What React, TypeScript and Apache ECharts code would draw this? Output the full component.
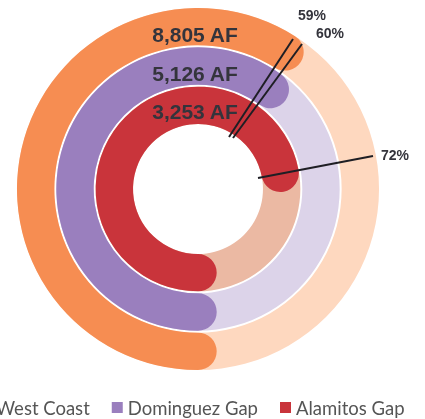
import React, { useEffect, useRef } from "react";
import * as echarts from "echarts";

const regions = ["Alamitos Gap", "Dominguez Gap", "West Coast"]; // inner -> outer
const volumes = ["3,253 AF", "5,126 AF", "8,805 AF"];
const percents = [72, 60, 59];
const darkColors = ["#C9343B", "#9A7FBE", "#F68D52"];
const lightColors = ["#EBB9A3", "#DCD3E9", "#FED8BF"];
const legendOrder = ["West Coast", "Dominguez Gap", "Alamitos Gap"];

export default function App() {
  const ref = useRef<HTMLDivElement>(null);
  useEffect(() => {
    if (!ref.current) return;
    const chart = echarts.init(ref.current, null, { renderer: "svg" });
    const cx = 198;
    const cy = 189;
    const bgSeries = regions.map((r, i) => ({
      type: "bar",
      name: r + " capacity",
      coordinateSystem: "polar",
      data: regions.map((_, j) => (j === i ? 100 : "-")),
      itemStyle: { color: lightColors[i] },
      barGap: "-100%",
      barCategoryGap: "5%",
      silent: true,
    }));
    const darkSeries = regions.map((r, i) => ({
      type: "bar",
      name: r,
      coordinateSystem: "polar",
      data: regions.map((_, j) => (j === i ? percents[i] : "-")),
      itemStyle: { color: darkColors[i] },
      roundCap: true,
      barGap: "-100%",
      barCategoryGap: "5%",
    }));
    const textColor = "#34343c";
    const afTexts = [
      { t: volumes[2], y: 34 },
      { t: volumes[1], y: 73 },
      { t: volumes[0], y: 111 },
    ].map((d) => ({
      type: "text",
      x: 195,
      y: d.y,
      z: 100,
      style: {
        text: d.t,
        fill: textColor,
        font: "bold 21px 'Liberation Sans', Arial, sans-serif",
        align: "center",
        verticalAlign: "middle",
      },
    }));
    const pctStyle = (t: string, x: number, y: number) => ({
      type: "text",
      x,
      y,
      z: 100,
      style: {
        text: t,
        fill: textColor,
        font: "bold 14px 'Liberation Sans', Arial, sans-serif",
        align: "center",
        verticalAlign: "middle",
      },
    });
    const line = (x1: number, y1: number, x2: number, y2: number) => ({
      type: "line",
      z: 100,
      shape: { x1, y1, x2, y2 },
      style: { stroke: "#1e1e24", lineWidth: 2 },
    });
    chart.setOption({
      animation: false,
      polar: { center: [cx, cy], radius: [64, 182] },
      angleAxis: {
        type: "value",
        min: 0,
        max: 100,
        startAngle: 270,
        clockwise: true,
        show: false,
      },
      radiusAxis: {
        type: "category",
        data: regions,
        show: false,
      },
      legend: {
        data: legendOrder,
        top: 393,
        left: -25,
        icon: "rect",
        itemWidth: 11,
        itemHeight: 11,
        itemGap: 22,
        textStyle: {
          color: "#555",
          fontSize: 18.5,
          fontFamily: "Lato, 'Noto Sans', sans-serif",
        },
      },
      series: [...bgSeries, ...darkSeries],
      graphic: [
        ...afTexts,
        line(293, 39, 229, 137),
        line(302, 44, 233, 138),
        line(373, 156, 258, 178),
        pctStyle(percents[2] + "%", 312, 15),
        pctStyle(percents[1] + "%", 330, 33),
        pctStyle(percents[0] + "%", 395, 155),
      ],
    });
    return () => chart.dispose();
  }, []);
  return (
    <div
      ref={ref}
      style={{ position: "fixed", left: 0, top: 0, width: 425, height: 419 }}
    />
  );
}
